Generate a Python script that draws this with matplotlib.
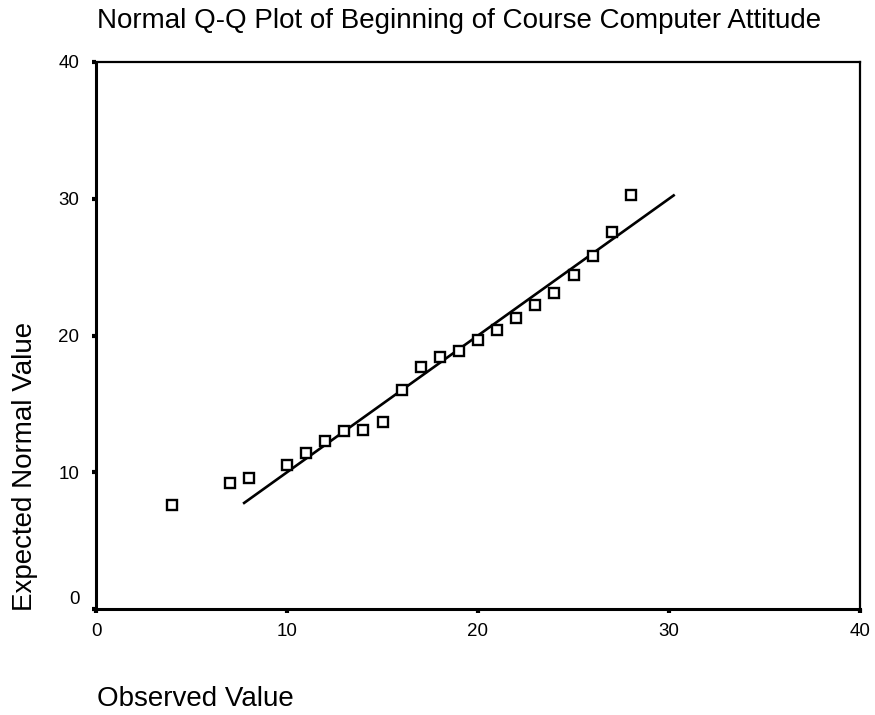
import matplotlib
matplotlib.use("Agg")
import matplotlib.pyplot as plt
import matplotlib.transforms as mtransforms

plt.rcParams['font.family'] = ['Liberation Sans', 'DejaVu Sans']

observed = [4, 7, 8, 10, 11, 12, 13, 14, 15, 16, 17, 18, 19, 20, 21, 22, 23, 24, 25, 26, 27, 28]
expected = [7.6, 9.2, 9.6, 10.5, 11.4, 12.3, 13.0, 13.1, 13.7, 16.0, 17.7, 18.4, 18.9,
            19.7, 20.4, 21.3, 22.2, 23.1, 24.4, 25.8, 27.6, 30.3]
line_x = [7.7, 30.3]
line_y = [7.7, 30.3]
ticks = [0, 10, 20, 30, 40]

W, H = 875, 715
fig = plt.figure(figsize=(W / 100, H / 100), dpi=100)
L, R, B, T = 96, 860, 609, 62
ax = fig.add_axes([L / W, 1 - B / H, (R - L) / W, (B - T) / H])

ax.plot(line_x, line_y, color='black', lw=1.9, solid_capstyle='butt', zorder=2)
ax.plot(observed, expected, ls='none', marker='s', ms=6.6, mfc='white', mec='black',
        mew=1.7, zorder=3)

ax.set_xlim(0, 40)
ax.set_ylim(0, 40)
ax.set_xticks(ticks)
ax.set_yticks(ticks)
ax.set_xticklabels([str(t) for t in ticks])
ax.set_yticklabels([str(t) for t in ticks])
ax.tick_params(direction='out', length=3, width=3, labelsize=13.5, colors='black')
ax.tick_params(axis='x', pad=7)
ax.tick_params(axis='y', pad=9)

# SPSS lifts the lowest y label above the corner
lab0 = ax.get_yticklabels()[0]
lab0.set_transform(lab0.get_transform() +
                   mtransforms.ScaledTranslation(0, 12 / 100, fig.dpi_scale_trans))

for s in ['left', 'bottom']:
    ax.spines[s].set_linewidth(2.2)
for s in ['top', 'right']:
    ax.spines[s].set_linewidth(1.6)

fig.text(97 / W, 1 - 28.5 / H, 'Normal Q-Q Plot of Beginning of Course Computer Attitude',
         fontsize=20, ha='left', va='baseline')
fig.text(97 / W, 1 - 706 / H, 'Observed Value', fontsize=20, ha='left', va='baseline')
fig.text(25 / W, 1 - 466 / H, 'Expected Normal Value', fontsize=20, rotation=90,
         ha='center', va='center')

fig.savefig('out.png', dpi=100)
